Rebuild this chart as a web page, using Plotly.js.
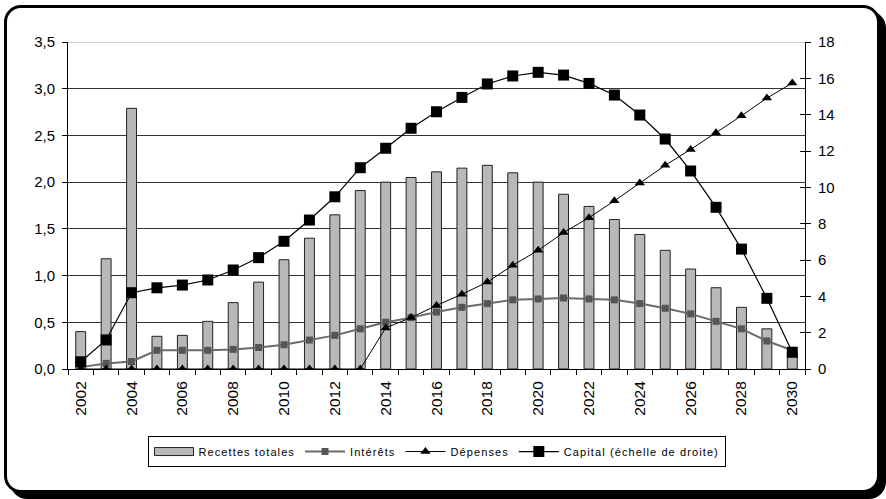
<!DOCTYPE html>
<html>
<head>
<meta charset="utf-8">
<script src="https://cdn.plot.ly/plotly-3.0.1.min.js"></script>
<style>
  html, body { margin: 0; padding: 0; background: #fff; }
  #frame {
    position: absolute; left: 4px; top: 5px; width: 876px; height: 488px;
    box-sizing: border-box; border: 3px solid #000; border-radius: 17px;
    box-shadow: 6px 6px 0 0 #000; background: #fff;
  }
  #chart { position: absolute; left: 0; top: 0; width: 886px; height: 499px; }
  .legendtext { letter-spacing: 1.1px; }
</style>
</head>
<body>
<div id="frame"></div>
<div id="chart"></div>
<script>
// Years on the horizontal axis
const years = [2002, 2003, 2004, 2005, 2006, 2007, 2008, 2009, 2010, 2011,
               2012, 2013, 2014, 2015, 2016, 2017, 2018, 2019, 2020, 2021,
               2022, 2023, 2024, 2025, 2026, 2027, 2028, 2029, 2030];

// Labelled years (every second year)
const yearLabels = [2002, 2004, 2006, 2008, 2010, 2012, 2014, 2016,
                    2018, 2020, 2022, 2024, 2026, 2028, 2030];

// Left scale
const recettes = [0.40, 1.18, 2.79, 0.35, 0.36, 0.51, 0.71, 0.93, 1.17, 1.40,
                  1.65, 1.91, 2.00, 2.05, 2.11, 2.15, 2.18, 2.10, 2.00, 1.87,
                  1.74, 1.60, 1.44, 1.27, 1.07, 0.87, 0.66, 0.43, 0.17];

const interets = [0.02, 0.06, 0.08, 0.20, 0.20, 0.20, 0.21, 0.23, 0.26, 0.31,
                  0.36, 0.43, 0.50, 0.55, 0.61, 0.66, 0.70, 0.74, 0.75, 0.76,
                  0.75, 0.74, 0.70, 0.65, 0.59, 0.51, 0.43, 0.30, 0.20];

const depenses = [0, 0, 0, 0, 0, 0, 0, 0, 0, 0,
                  0, 0, 0.44, 0.55, 0.68, 0.80, 0.93, 1.11, 1.27, 1.46,
                  1.62, 1.80, 1.99, 2.18, 2.35, 2.53, 2.71, 2.90, 3.06];

// Right scale
const capital = [0.40, 1.60, 4.20, 4.47, 4.62, 4.90, 5.45, 6.13, 7.03, 8.20,
                 9.48, 11.08, 12.15, 13.25, 14.16, 14.95, 15.69, 16.13, 16.33, 16.18,
                 15.72, 15.08, 13.98, 12.66, 10.90, 8.90, 6.60, 3.89, 0.92];

const FONT = '"Liberation Sans", Arial, sans-serif';

const traces = [
  {
    type: 'bar', name: 'Recettes totales', x: years, y: recettes,
    width: 0.39,
    marker: { color: '#b8b8b8', line: { color: '#222', width: 1 } },
    yaxis: 'y'
  },
  {
    type: 'scatter', mode: 'lines+markers', name: 'Intérêts', x: years, y: interets,
    line: { color: '#6a6a6a', width: 2 },
    marker: { symbol: 'square', size: 7, color: '#555' },
    yaxis: 'y'
  },
  {
    type: 'scatter', mode: 'lines+markers', name: 'Dépenses', x: years, y: depenses,
    line: { color: '#000', width: 1 },
    marker: { symbol: 'triangle-up', size: 9, color: '#000' },
    yaxis: 'y'
  },
  {
    type: 'scatter', mode: 'lines+markers', name: 'Capital (échelle de droite)', x: years, y: capital,
    line: { color: '#000', width: 1.2 },
    marker: { symbol: 'square', size: 11, color: '#000' },
    yaxis: 'y2'
  },
  // carries the inner half of the right-hand tick marks
  { type: 'scatter', x: [], y: [], yaxis: 'y3', showlegend: false, hoverinfo: 'skip' }
];

const layout = {
  width: 886, height: 499,
  margin: { l: 68, r: 81, t: 42, b: 130 },
  paper_bgcolor: 'rgba(0,0,0,0)',
  plot_bgcolor: 'rgba(0,0,0,0)',
  separators: ', ',
  font: { family: FONT, size: 15, color: '#000' },
  showlegend: true,
  bargap: 0,
  xaxis: {
    range: [2001.5, 2030.5],
    tickmode: 'array', tickvals: yearLabels, ticktext: yearLabels.map(String),
    tickangle: -90, ticks: '', showgrid: false,
    showline: true, linecolor: '#000', linewidth: 1,
    minor: { ticks: 'outside', tick0: 2001.5, dtick: 1, ticklen: 5, tickcolor: '#000', showgrid: false },
    ticklabelstandoff: 5,
    tickfont: { size: 15.5 }
  },
  yaxis: {
    range: [0, 3.5], dtick: 0.5, tickformat: '.1f',
    showgrid: true, gridcolor: '#333', gridwidth: 1,
    showline: true, linecolor: '#000', linewidth: 1,
    ticks: 'outside', ticklen: 5, tickcolor: '#000',
    ticklabelstandoff: 4, zeroline: false
  },
  yaxis2: {
    range: [0, 18], dtick: 2, overlaying: 'y', side: 'right',
    showgrid: false, zeroline: false,
    showline: true, linecolor: '#000', linewidth: 1,
    ticks: 'outside', ticklen: 5, tickcolor: '#000',
    ticklabelstandoff: 4
  },
  yaxis3: {
    range: [0, 18], dtick: 2, overlaying: 'y', side: 'right',
    showgrid: false, zeroline: false, showline: false,
    ticks: 'inside', ticklen: 5, tickcolor: '#000', showticklabels: false
  },
  shapes: [
    { type: 'line', xref: 'paper', yref: 'y', x0: 0, x1: 1, y0: 3.5, y1: 3.5,
      line: { color: '#999', width: 1 }, layer: 'above' }
  ],
  legend: {
    orientation: 'h', x: 0.5, xanchor: 'center', y: -0.205, yanchor: 'top',
    bgcolor: '#fff', bordercolor: '#000', borderwidth: 1,
    font: { size: 11, family: FONT },
    itemwidth: 40, tracegroupgap: 0
  }
};

// widen the bar key into a flat rectangle spanning the symbol slot
function widenBarKey(gd) {
  const items = gd.querySelectorAll('.legend .traces');
  if (!items.length) return;
  items[0].querySelectorAll('.legendpoints path').forEach(function (p) {
    p.setAttribute('d', 'M20,4H-19V-4H20Z');
  });
}

const gd = document.getElementById('chart');
Plotly.newPlot(gd, traces, layout, { displayModeBar: false, staticPlot: true });
widenBarKey(gd);
</script>
</body>
</html>
